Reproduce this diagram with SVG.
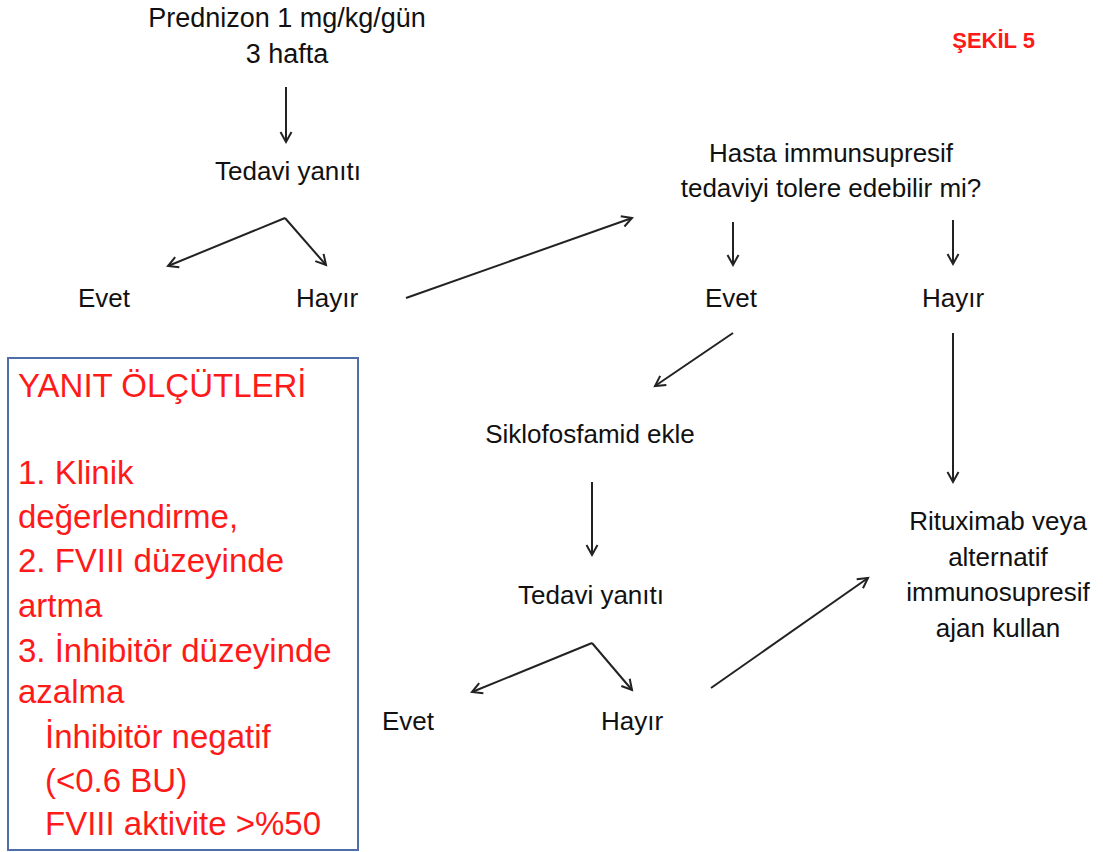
<svg xmlns="http://www.w3.org/2000/svg" width="1103" height="852" viewBox="0 0 1103 852">
<style>
.t{font-family:"Liberation Sans",Arial,sans-serif;font-size:26px;fill:#111;text-anchor:middle}
.r{font-family:"Liberation Sans",Arial,sans-serif;font-size:33px;fill:#ff1a1a}
.c{stroke:#222;stroke-width:2;fill:none;marker-end:url(#ah)}
</style>
<defs>
<marker id="ah" markerUnits="userSpaceOnUse" markerWidth="14" markerHeight="14" refX="11" refY="7" orient="auto">
<path d="M1,1.5 L11,7 L1,12.5" fill="none" stroke="#222" stroke-width="2"/>
</marker>
</defs>
<rect width="1103" height="852" fill="#fff"/>
<g id="title"><text x="1035" y="48" style="font-family:'Liberation Sans',Arial,sans-serif;font-size:22px;font-weight:bold;fill:#ff1a1a;text-anchor:end">ŞEKİL 5</text></g>
<g id="prednizon"><text class="t" x="287" y="27" style="font-size:27px">Prednizon 1 mg/kg/gün</text><text class="t" x="287" y="63" style="font-size:27px">3 hafta</text></g>
<g id="yanit1"><text class="t" x="288" y="180">Tedavi yanıtı</text></g>
<g id="evet1"><text class="t" x="104" y="307">Evet</text></g>
<g id="hayir1"><text class="t" x="327" y="307">Hayır</text></g>
<g id="soru"><text class="t" x="831" y="162">Hasta immunsupresif</text><text class="t" x="831" y="197">tedaviyi tolere edebilir mi?</text></g>
<g id="evet2"><text class="t" x="731" y="307">Evet</text></g>
<g id="hayir2"><text class="t" x="953" y="307">Hayır</text></g>
<g id="siklo"><text class="t" x="590" y="443">Siklofosfamid ekle</text></g>
<g id="yanit2"><text class="t" x="591" y="604">Tedavi yanıtı</text></g>
<g id="evet3"><text class="t" x="408" y="730">Evet</text></g>
<g id="hayir3"><text class="t" x="632" y="730">Hayır</text></g>
<g id="ritux"><text class="t" x="998" y="530">Rituximab veya</text><text class="t" x="998" y="566">alternatif</text><text class="t" x="998" y="601">immunosupresif</text><text class="t" x="998" y="637">ajan kullan</text></g>
<g id="olcut">
<rect x="8" y="358" width="350" height="492" fill="none" stroke="#4f6fa8" stroke-width="2"/>
<text class="r" x="18" y="397">YANIT ÖLÇÜTLERİ</text>
<text class="r" x="18" y="484">1. Klinik</text>
<text class="r" x="18" y="528">değerlendirme,</text>
<text class="r" x="18" y="572">2. FVIII düzeyinde</text>
<text class="r" x="18" y="617">artma</text>
<text class="r" x="18" y="662">3. İnhibitör düzeyinde</text>
<text class="r" x="18" y="703">azalma</text>
<text class="r" x="45" y="748">İnhibitör negatif</text>
<text class="r" x="45" y="792">(&lt;0.6 BU)</text>
<text class="r" x="45" y="835">FVIII aktivite &gt;%50</text>
</g>
<g id="connectors">
<line class="c" x1="286" y1="87" x2="286" y2="142"/>
<polyline class="c" points="285,218 168,266"/>
<polyline class="c" points="285,218 326,265"/>
<line class="c" x1="406" y1="298" x2="632" y2="218"/>
<line class="c" x1="733" y1="222" x2="733" y2="265"/>
<line class="c" x1="953" y1="220" x2="953" y2="264"/>
<line class="c" x1="733" y1="333" x2="655" y2="386"/>
<line class="c" x1="953" y1="333" x2="953" y2="482"/>
<line class="c" x1="592" y1="482" x2="592" y2="555"/>
<polyline class="c" points="592,643 472,692"/>
<polyline class="c" points="592,643 632,690"/>
<line class="c" x1="711" y1="688" x2="868" y2="578"/>
</g>
</svg>
